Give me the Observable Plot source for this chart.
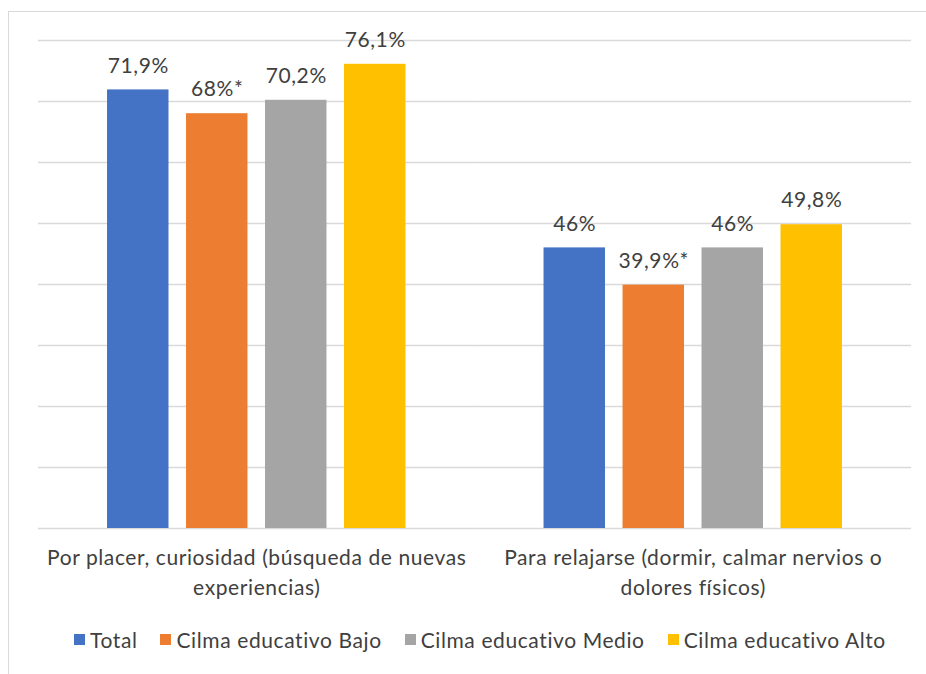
<!DOCTYPE html>
<html><head><meta charset="utf-8">
<script src="https://cdn.jsdelivr.net/npm/d3@7"></script>
<script src="https://cdn.jsdelivr.net/npm/@observablehq/plot@0.6"></script>
<style>
body{margin:0;background:#fff;}
#wrap{position:relative;width:926px;height:674px;overflow:hidden;background:#fff;}
#frame{position:absolute;left:8px;top:11px;width:1000px;height:1000px;border:1px solid #d9d9d9;}
#chart{position:absolute;left:0;top:0;}
#chart svg text{letter-spacing:0.6px;}
#legend{position:absolute;left:74px;top:625px;}
.lg-swatches{font-family:Lato,sans-serif;font-size:21px;color:#404040;margin:0;letter-spacing:0.6px;}
.lg-swatches-wrap{min-height:28px;flex-wrap:nowrap;}
.lg-swatch{margin-right:23px;}
.lg-swatch > svg{margin-right:5px;}
</style></head><body>
<div id="wrap"><div id="frame"></div><div id="chart"></div><div id="legend"></div></div>
<script>
const categories = ["Por placer, curiosidad (búsqueda de nuevas\nexperiencias)", "Para relajarse (dormir, calmar nervios o\ndolores físicos)"];
const series = ["Total", "Cilma educativo Bajo", "Cilma educativo Medio", "Cilma educativo Alto"];
const placerValues = [71.9, 68.0, 70.2, 76.1];
const relajarseValues = [46.0, 39.9, 46.0, 49.8];
const placerLabels = ["71,9%", "68%*", "70,2%", "76,1%"];
const relajarseLabels = ["46%", "39,9%*", "46%", "49,8%"];
const colors = ["#4472c4", "#ed7d31", "#a5a5a5", "#ffc000"];
const gridTicks = [0, 10, 20, 30, 40, 50, 60, 70, 80];

const data = [];
series.forEach((s, i) => data.push({cat: categories[0], series: s, value: placerValues[i], label: placerLabels[i]}));
series.forEach((s, i) => data.push({cat: categories[1], series: s, value: relajarseValues[i], label: relajarseLabels[i]}));

const font = "Lato, sans-serif";
const plot = Plot.plot({
  width: 926, height: 674,
  marginLeft: 38, marginRight: 15, marginTop: 40, marginBottom: 146,
  style: {fontFamily: font, fontSize: "21px", color: "#404040", background: "transparent", overflow: "visible"},
  fx: {domain: categories, padding: 0, axis: null, label: null, round: false},
  x: {domain: series, paddingInner: 0.222, paddingOuter: 0.874, axis: null, round: false},
  y: {domain: [0, 80], axis: null},
  color: {domain: series, range: colors},
  marks: [
    Plot.ruleY(gridTicks, {stroke: "#d9d9d9", strokeWidth: 1.3}),
    Plot.barY(data, {fx: "cat", x: "series", y: "value", fill: "series"}),
    Plot.text(data, {fx: "cat", x: "series", y: "value", text: "label", dy: -24, fill: "#404040", fontSize: 21}),
    Plot.text(categories, {fx: d => d, text: d => d, frameAnchor: "bottom", lineAnchor: "top", dy: 15.5, lineHeight: 1.43, fill: "#404040", fontSize: 21})
  ]
});
document.getElementById("chart").appendChild(plot);
const leg = plot.legend("color", {className: "lg", swatchSize: 11});
document.getElementById("legend").appendChild(leg);
</script>
</body></html>
